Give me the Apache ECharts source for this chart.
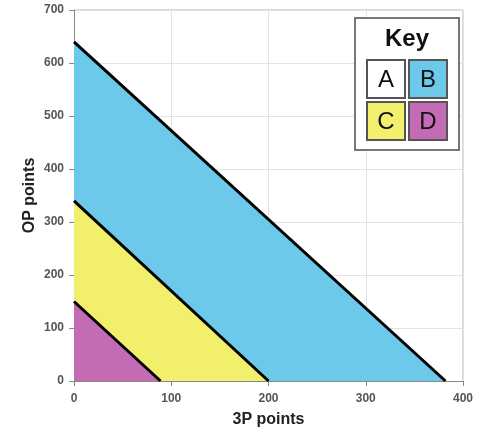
<!DOCTYPE html>
<html><head><meta charset="utf-8">
<script src="https://cdn.jsdelivr.net/npm/echarts@6/dist/echarts.min.js"></script>
<style>html,body{margin:0;padding:0;background:#fff}#c{width:481px;height:434px}</style>
</head><body><div id="c"></div>
<script>
const xTicks = [0, 100, 200, 300, 400];
const yTicks = [0, 100, 200, 300, 400, 500, 600, 700];
const lineB = [[0, 640], [382, 0]];
const lineC = [[0, 340], [200, 0]];
const lineD = [[0, 150], [89, 0]];
const keyLabels = ['A', 'B', 'C', 'D'];
const keyColors = ['#ffffff', '#6cc9ea', '#f2ef6c', '#c46bb5'];

const chart = echarts.init(document.getElementById('c'));
const tickStyle = {color: '#555', fontFamily: 'Liberation Sans, Arial', fontSize: 12, fontWeight: 'bold'};
function mk(name, data, color, z) {
  return {name, type: 'line', data, symbol: 'none', z,
    lineStyle: {color: '#000', width: 3},
    areaStyle: {color, opacity: 1, origin: 'start'}};
}
const cells = [];
const cx = [367, 409], cy = [60, 102];
keyLabels.forEach((l, i) => {
  const x = cx[i % 2], y = cy[Math.floor(i / 2)];
  cells.push({type: 'rect', shape: {x, y, width: 38, height: 38},
    style: {fill: keyColors[i], stroke: '#555', lineWidth: 2}});
  cells.push({type: 'text', x: x + 19, y: y + 20,
    style: {text: l, fill: '#111', font: '24px Liberation Sans, Arial', align: 'center', verticalAlign: 'middle'}});
});
chart.setOption({
  animation: false,
  grid: {left: 74, right: 18, top: 10, bottom: 53},
  xAxis: {type: 'value', min: xTicks[0], max: xTicks[xTicks.length - 1], interval: 100,
    name: '3P points', nameLocation: 'middle', nameGap: 31,
    nameTextStyle: {fontFamily: 'Liberation Sans, Arial', fontWeight: 'bold', fontSize: 16, color: '#222'},
    axisLine: {lineStyle: {color: '#888'}}, axisTick: {show: true, lineStyle: {color: '#888'}},
    axisLabel: Object.assign({margin: 12}, tickStyle), splitLine: {lineStyle: {color: '#e2e2e2'}}},
  yAxis: {type: 'value', min: yTicks[0], max: yTicks[yTicks.length - 1], interval: 100,
    name: 'OP points', nameLocation: 'middle', nameGap: 36, nameMoveOverlap: false,
    nameTextStyle: {fontFamily: 'Liberation Sans, Arial', fontWeight: 'bold', fontSize: 16, color: '#222'},
    axisLine: {show: true, lineStyle: {color: '#888'}}, axisTick: {show: true, lineStyle: {color: '#888'}},
    axisLabel: Object.assign({margin: 10}, tickStyle), splitLine: {lineStyle: {color: '#e2e2e2'}}},
  series: [mk('B', lineB, keyColors[1], 2), mk('C', lineC, keyColors[2], 3), mk('D', lineD, keyColors[3], 4)],
  graphic: [
    {type: 'rect', shape: {x: 463, y: 10, width: 0, height: 371}, style: {stroke: '#ccc', lineWidth: 1}},
    {type: 'rect', shape: {x: 74, y: 10, width: 389, height: 0}, style: {stroke: '#ccc', lineWidth: 1}},
    {type: 'rect', shape: {x: 355, y: 18, width: 104, height: 132},
      style: {fill: '#fff', stroke: '#777', lineWidth: 2}, z: 10},
    {type: 'text', x: 407, y: 39, z: 11,
      style: {text: 'Key', fill: '#111', font: 'bold 24px Liberation Sans, Arial', align: 'center', verticalAlign: 'middle'}},
    ...cells.map(c => Object.assign(c, {z: 11}))
  ]
});
</script></body></html>
